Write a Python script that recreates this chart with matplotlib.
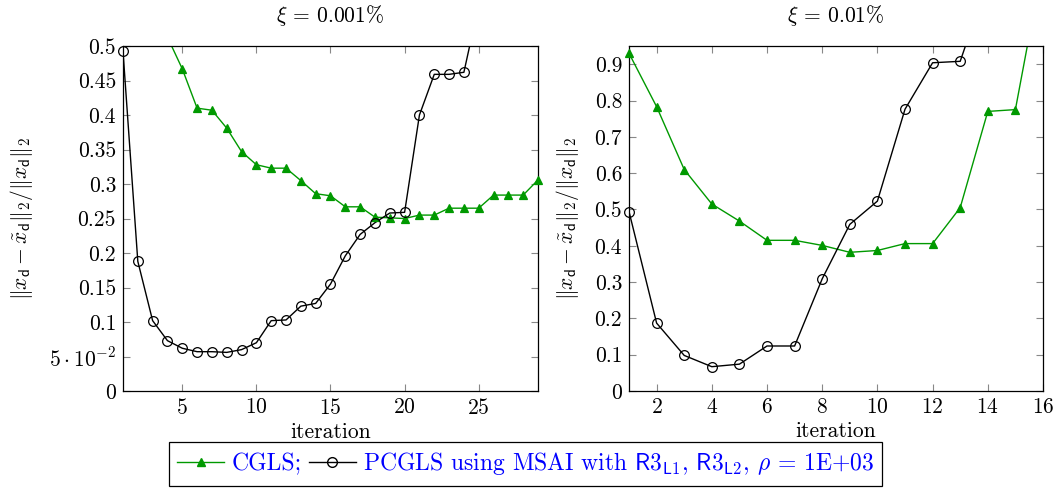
import numpy as np
import matplotlib
matplotlib.use("Agg")
import matplotlib.pyplot as plt
from matplotlib.lines import Line2D

plt.rcParams['font.family'] = 'serif'
plt.rcParams['font.serif'] = ['cmr10', 'DejaVu Serif']
plt.rcParams['mathtext.fontset'] = 'cm'
plt.rcParams['axes.formatter.use_mathtext'] = True
plt.rcParams['axes.unicode_minus'] = False

# xi = 0.001%
it_cgls_a = list(range(1, 30))
cgls_a = [0.93, 0.783, 0.61, 0.513, 0.467, 0.410, 0.407, 0.381, 0.347, 0.328,
          0.323, 0.323, 0.305, 0.286, 0.283, 0.267, 0.267, 0.252, 0.251, 0.250,
          0.255, 0.255, 0.265, 0.265, 0.265, 0.284, 0.284, 0.284, 0.306]
it_pcgls_a = list(range(1, 26))
pcgls_a = [0.493, 0.188, 0.102, 0.073, 0.062, 0.057, 0.057, 0.056, 0.060, 0.070,
           0.102, 0.103, 0.123, 0.127, 0.155, 0.196, 0.227, 0.244, 0.258, 0.259,
           0.400, 0.459, 0.459, 0.462, 0.56]

# xi = 0.01%
it_cgls_b = list(range(1, 17))
cgls_b = [0.930, 0.783, 0.610, 0.515, 0.468, 0.415, 0.415, 0.401, 0.382, 0.387,
          0.406, 0.406, 0.505, 0.770, 0.775, 1.18]
it_pcgls_b = list(range(1, 15))
pcgls_b = [0.494, 0.187, 0.098, 0.067, 0.074, 0.124, 0.124, 0.309, 0.459, 0.523,
           0.776, 0.904, 0.908, 1.13]

green = '#009900'
fs = 15.5

fig = plt.figure(figsize=(10.62, 4.9), dpi=100)
ax1 = fig.add_axes([0.1158, 0.202, 0.3908, 0.704])
ax2 = fig.add_axes([0.5923, 0.202, 0.3898, 0.704])

ylab = r'$\|x_{\mathsf{d}}-\tilde{x}_{\mathsf{d}}\|_2/\|x_{\mathsf{d}}\|_2$'


def draw(ax, xs, ys, ymax, color, marker, mfc, ms):
    ax.plot(xs, ys, color=color, lw=1.0, zorder=2)
    xs = np.array(xs)
    ys = np.array(ys)
    keep = ys <= ymax
    ax.plot(xs[keep], ys[keep], ls='none', marker=marker, color=color,
            mfc=mfc, mec=color, ms=ms, mew=0.9, clip_on=False, zorder=3)


draw(ax1, it_cgls_a, cgls_a, 0.5, green, '^', green, 5.5)
draw(ax1, it_pcgls_a, pcgls_a, 0.5, 'black', 'o', 'none', 7)
ax1.set_xlim(1, 29)
ax1.set_ylim(0, 0.5)
ax1.set_xticks([5, 10, 15, 20, 25])
yt = [0, 0.05, 0.1, 0.15, 0.2, 0.25, 0.3, 0.35, 0.4, 0.45, 0.5]
ax1.set_yticks(yt)
ax1.set_yticklabels(['0', r'$5\cdot10^{-2}$', '0.1', '0.15', '0.2', '0.25',
                     '0.3', '0.35', '0.4', '0.45', '0.5'])
ax1.set_title(r'$\xi$ = 0.001%', fontsize=fs, pad=17)

draw(ax2, it_cgls_b, cgls_b, 0.95, green, '^', green, 5.5)
draw(ax2, it_pcgls_b, pcgls_b, 0.95, 'black', 'o', 'none', 7)
ax2.set_xlim(1, 16)
ax2.set_ylim(0, 0.95)
ax2.set_xticks([2, 4, 6, 8, 10, 12, 14, 16])
ax2.set_yticks([0, 0.1, 0.2, 0.3, 0.4, 0.5, 0.6, 0.7, 0.8, 0.9])
ax2.set_yticklabels(['0', '0.1', '0.2', '0.3', '0.4', '0.5', '0.6', '0.7', '0.8', '0.9'])
ax2.set_title(r'$\xi$ = 0.01%', fontsize=fs, pad=17)

for ax in (ax1, ax2):
    ax.set_xlabel('iteration', fontsize=fs, labelpad=3)
    ax.set_ylabel(ylab, fontsize=fs, labelpad=10)
    ax.tick_params(direction='in', top=True, right=True, length=5,
                   color='#888888', labelsize=fs, pad=5)
    for s in ax.spines.values():
        s.set_linewidth(0.9)

handles = [Line2D([], [], color=green, marker='^', mfc=green, ms=5.5, lw=1.0),
           Line2D([], [], color='black', marker='o', mfc='none', ms=7, lw=1.0)]
labels = ['CGLS;',
          r'PCGLS using MSAI with $\mathsf{R3}_{\mathsf{L1}}$, $\mathsf{R3}_{\mathsf{L2}}$, $\rho$ = 1E+03']
leg = fig.legend(handles, labels, loc='lower center', bbox_to_anchor=(0.495, -0.015),
                 ncol=2, fontsize=17, frameon=True, fancybox=False, edgecolor='black',
                 framealpha=1, handlelength=2.0, handletextpad=0.3, columnspacing=0.3,
                 borderpad=0.35, numpoints=1)
leg.get_frame().set_linewidth(0.9)
for t in leg.get_texts():
    t.set_color('blue')

fig.savefig('out.png', dpi=100)
